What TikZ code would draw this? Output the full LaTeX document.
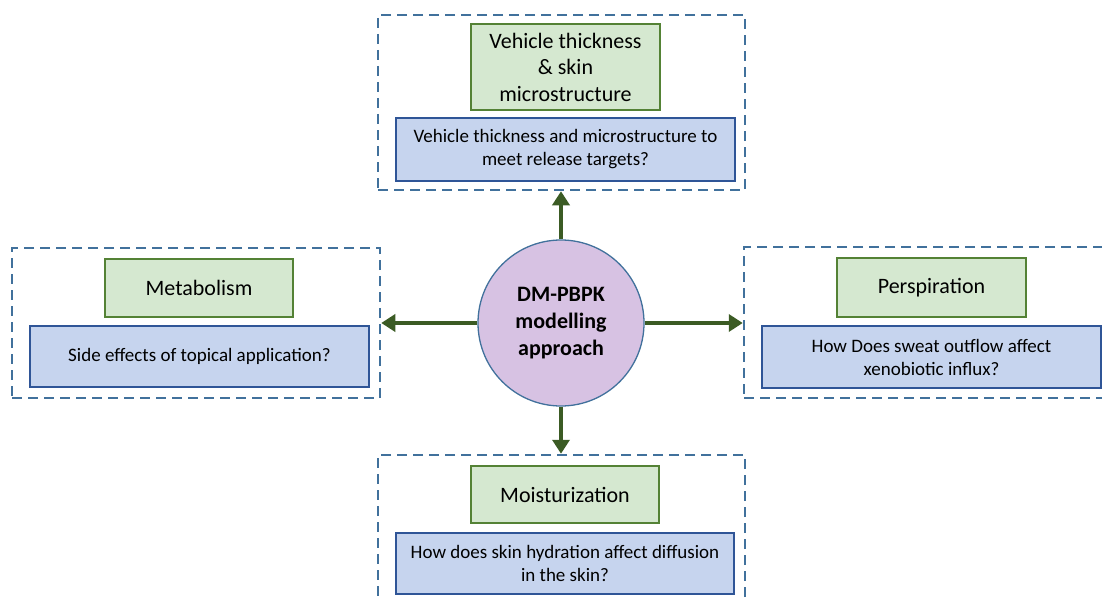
\documentclass[tikz,border=0pt]{standalone}
\usepackage{fontspec}
\setmainfont{Carlito}
\usetikzlibrary{arrows.meta}
\definecolor{framecol}{HTML}{41719C}
\definecolor{topicfill}{HTML}{D5E8D0}
\definecolor{topicdraw}{HTML}{548235}
\definecolor{questfill}{HTML}{C6D4EE}
\definecolor{questdraw}{HTML}{2F5597}
\definecolor{corefill}{HTML}{D7C2E3}
\definecolor{linkcol}{HTML}{3B5B24}
\begin{document}
\begin{tikzpicture}[x=1pt,y=-1pt,
  frame/.style={draw=framecol, line width=2.5pt, dash pattern=on 10pt off 6pt, rectangle, inner sep=0pt},
  topic/.style={draw=topicdraw, fill=topicfill, line width=2.4pt, rectangle, inner sep=0pt, align=center,
    font=\fontsize{22}{26.5}\selectfont},
  question/.style={draw=questdraw, fill=questfill, line width=2.4pt, rectangle, inner sep=0pt, align=center,
    font=\fontsize{19}{23}\selectfont},
  link/.style={draw=linkcol, line width=4.5pt, -{Triangle[length=14pt,width=17pt]}}]
  \useasboundingbox (0,0) rectangle (1102,599);
  \clip (0,0) rectangle (1102,599);
  % outer dashed frames
  \node [frame, minimum width=367, minimum height=175] (vframe) at (561.5,102.5) {};
  \node [frame, minimum width=368, minimum height=150] (mframe) at (196,323) {};
  \node [frame, minimum width=368, minimum height=151] (pframe) at (928,322.5) {};
  \node [frame, minimum width=367, minimum height=175] (hframe) at (561.5,542.5) {};
  % topics
  \node [topic, minimum width=189, minimum height=86] (vtopic) at (565.5,67) {Vehicle thickness\\ \& skin\\ microstructure};
  \node [topic, minimum width=188, minimum height=58] (mtopic) at (199,288) {Metabolism};
  \node [topic, minimum width=189, minimum height=59] (ptopic) at (931.5,287.5) {Perspiration};
  \node [topic, minimum width=188, minimum height=57] (htopic) at (565,494.5) {Moisturization};
  % questions
  \node [question, minimum width=339, minimum height=63] (vquest) at (565.5,149.5) {Vehicle thickness and microstructure to\\ meet release targets?};
  \node [question, minimum width=339, minimum height=61] (mquest) at (199.5,356.5) {Side effects of topical application?};
  \node [question, minimum width=339, minimum height=62] (pquest) at (931.5,357) {How Does sweat outflow affect\\ xenobiotic influx?};
  \node [question, minimum width=338, minimum height=61] (hquest) at (565,563.5) {How does skin hydration affect diffusion\\ in the skin?};
  % centre
  \node [circle, draw=framecol, fill=corefill, line width=1.3pt, minimum size=166, inner sep=0pt, align=center,
    font=\fontsize{22}{27}\selectfont\bfseries] (core) at (561,323) {DM-PBPK\\ modelling\\ approach};
  \draw [link] (core.north) -- (core.north |- vframe.south);
  \draw [link] (core.west) -- (core.west -| mframe.east);
  \draw [link] (core.east) -- (core.east -| pframe.west);
  \draw [link] (core.south) -- (core.south |- hframe.north);
\end{tikzpicture}
\end{document}
